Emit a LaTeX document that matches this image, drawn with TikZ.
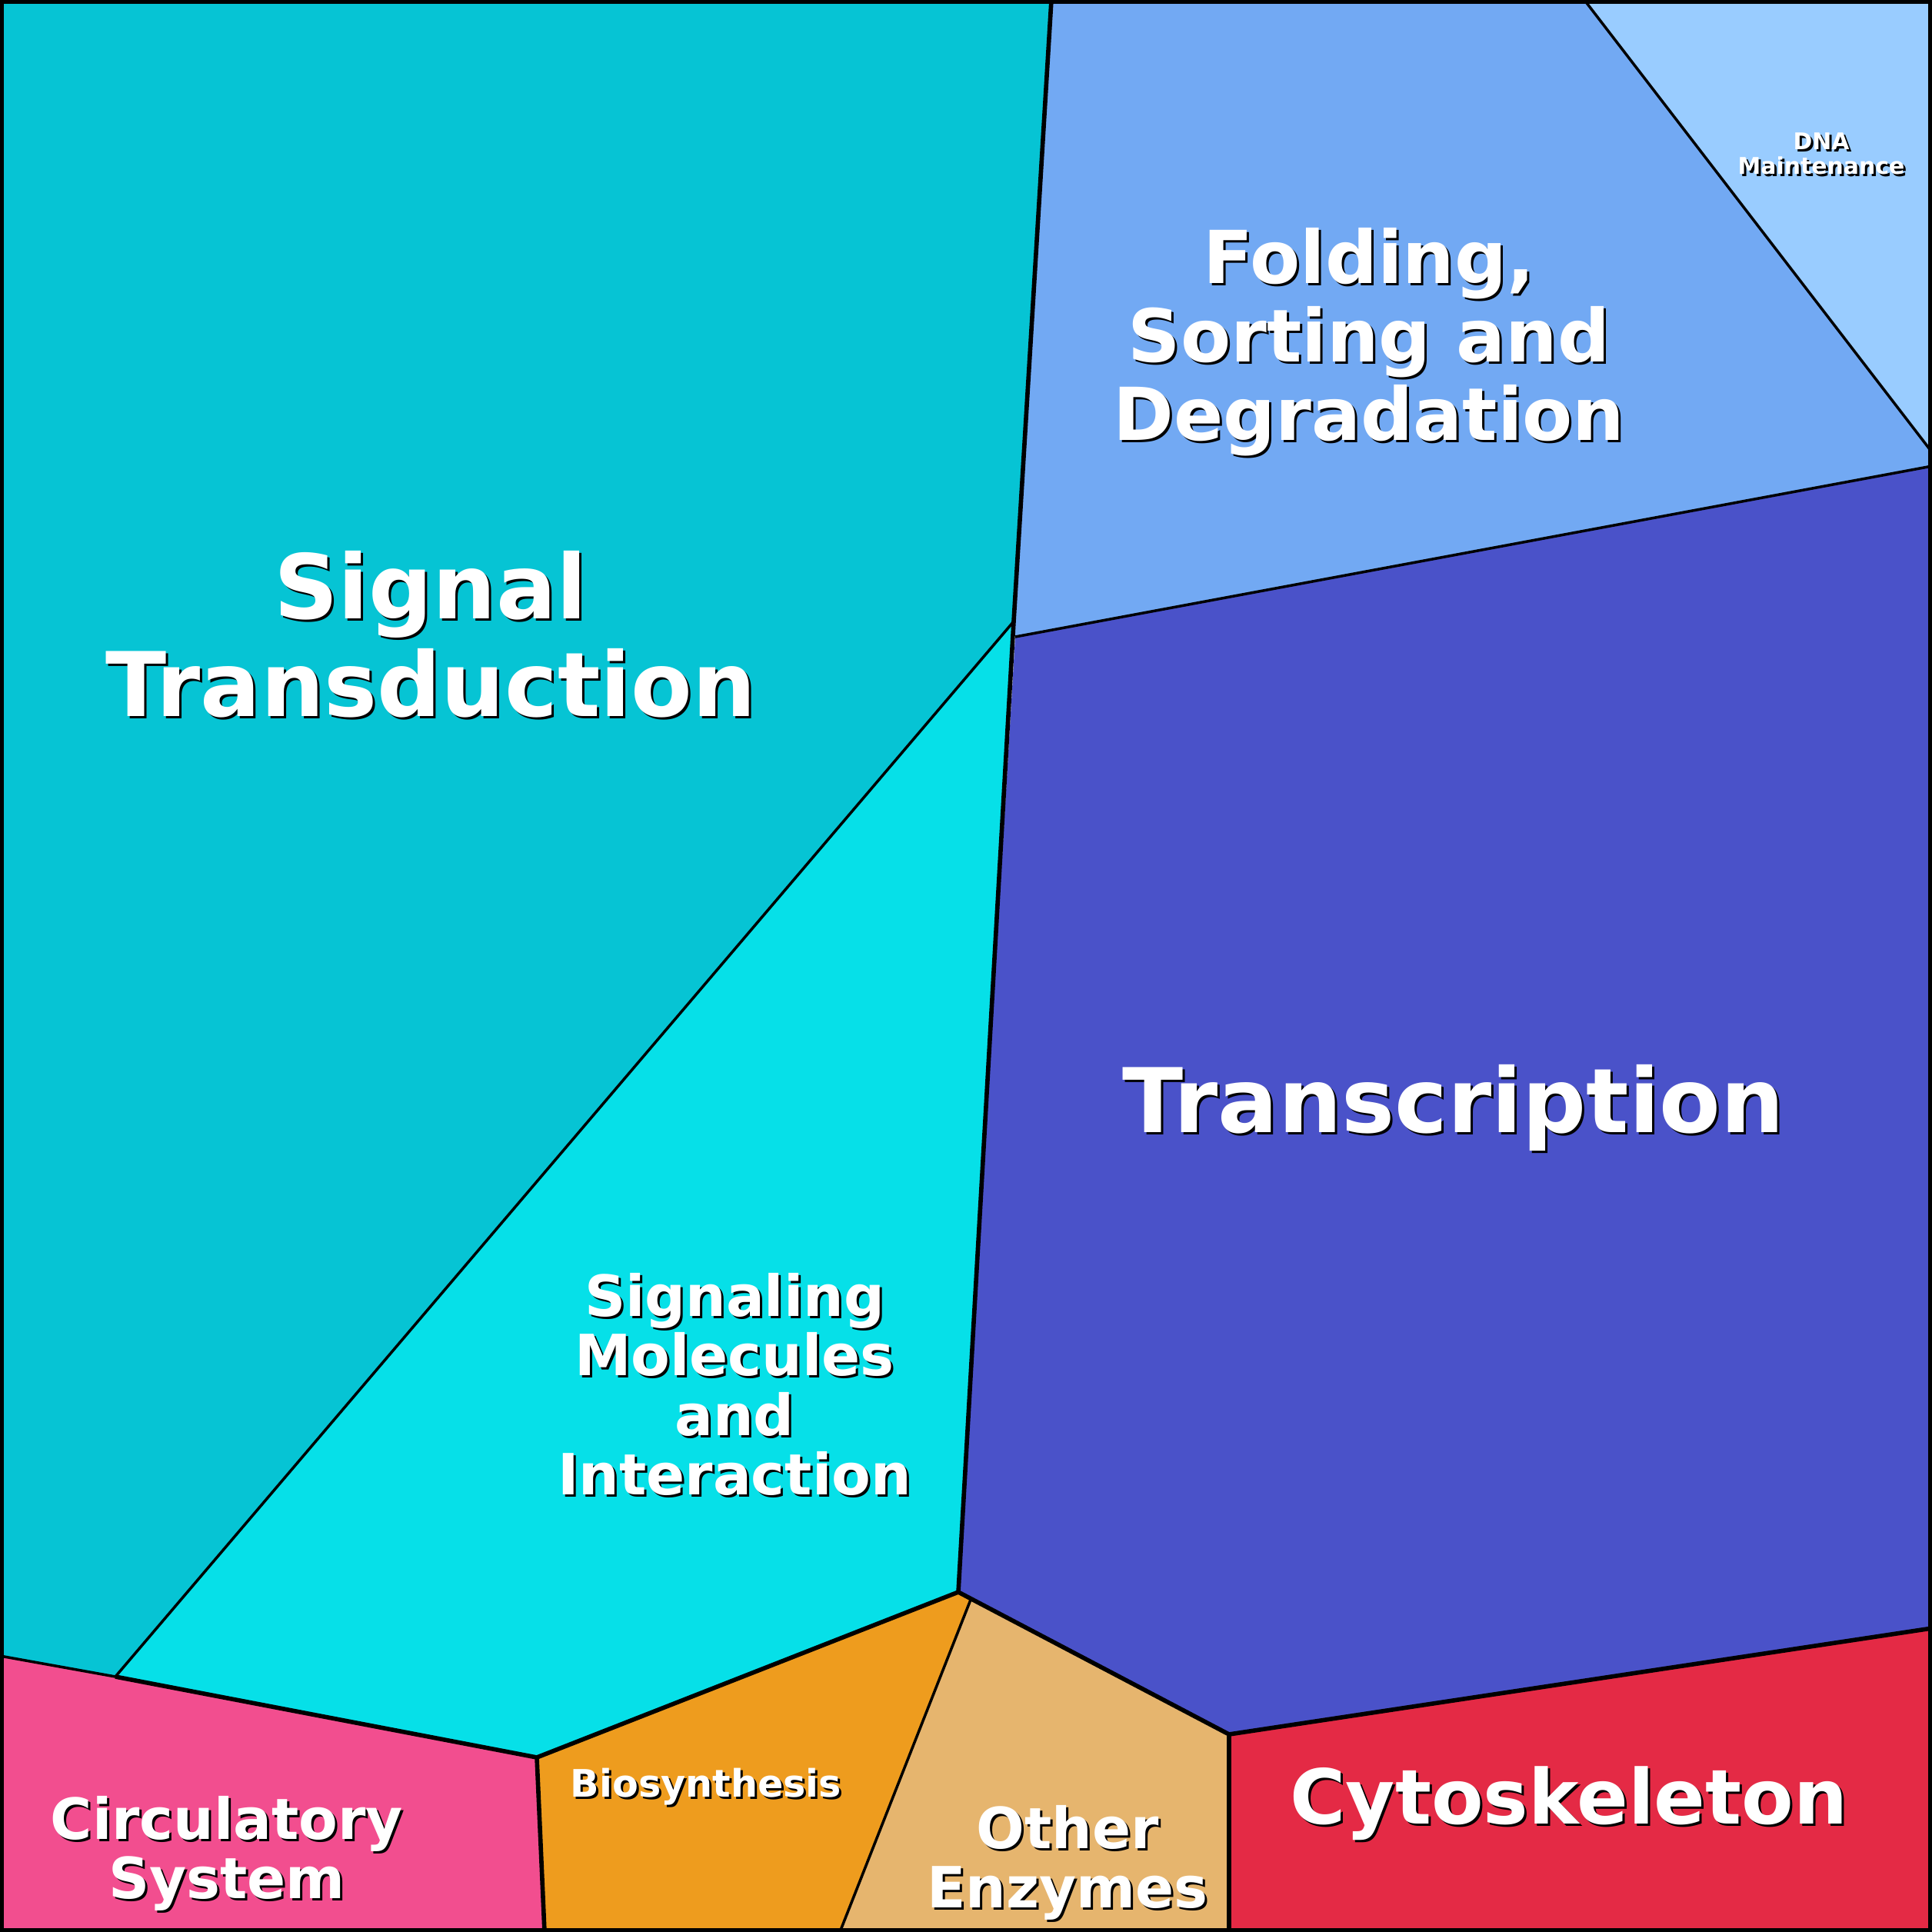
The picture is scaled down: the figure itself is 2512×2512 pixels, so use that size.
\documentclass[tikz,border=0pt]{standalone}
\usepackage{fontspec}
\setmainfont{DejaVu Sans}
\definecolor{sigtrans}{HTML}{06C4D4}
\definecolor{sigmol}{HTML}{06E0E8}
\definecolor{folding}{HTML}{72A9F3}
\definecolor{dnamaint}{HTML}{99CCFF}
\definecolor{transcr}{HTML}{4A52C9}
\definecolor{cytosk}{HTML}{E42A45}
\definecolor{otherenz}{HTML}{E6B56E}
\definecolor{biosyn}{HTML}{EE9C1E}
\definecolor{circsys}{HTML}{F24E8F}
\newcommand{\celllabel}[5]{%
  \node[cellshadow, font=\bfseries\fontsize{#3}{#4}\selectfont] at ([shift={(3,3)}]#2) {#5};
  \node[celltext, font=\bfseries\fontsize{#3}{#4}\selectfont] (#1) at (#2) {#5};}
\begin{document}
\begin{tikzpicture}[
    x=0.01cm, y=-0.01cm,
    cell/.style={draw=black, line width=1.6pt, line join=round},
    thin cell/.style={draw=black, line width=1pt},
    celltext/.style={text=white, align=center, inner sep=0pt},
    cellshadow/.style={text=black, align=center, inner sep=0pt}
]
\useasboundingbox (0,0) rectangle (2512,2512);

% Zellen
\fill[sigtrans] (0,0) -- (1367,0) -- (1318,808) -- (150,2180) -- (0,2153) -- cycle;
\fill[sigmol] (1318,808) -- (1246,2070) -- (698,2285) -- (150,2180) -- cycle;
\fill[folding] (1367,0) -- (2060,0) -- (2512,588) -- (2512,606) -- (1320,828) -- (1318,808) -- cycle;
\fill[dnamaint] (2060,0) -- (2512,0) -- (2512,588) -- cycle;
\fill[transcr] (1320,828) -- (2512,606) -- (2512,2117) -- (1598,2255) -- (1262,2080) -- (1246,2070) -- cycle;
\fill[cytosk] (1598,2255) -- (2512,2117) -- (2512,2512) -- (1598,2512) -- cycle;
\fill[otherenz] (1262,2080) -- (1598,2255) -- (1598,2512) -- (1092,2512) -- cycle;
\fill[biosyn] (698,2285) -- (1246,2070) -- (1262,2080) -- (1092,2512) -- (708,2512) -- cycle;
\fill[circsys] (0,2153) -- (150,2180) -- (698,2285) -- (708,2512) -- (0,2512) -- cycle;

% Grenzen
\draw[thin cell] (1318,808) -- (150,2180);
\draw[thin cell] (2060,0) -- (2512,588);
\draw[thin cell] (1320,828) -- (2512,606);
\draw[thin cell] (1262,2080) -- (1092,2512);
\draw[thin cell] (0,2153) -- (150,2180);
\draw[cell] (1367,0) -- (1318,808) -- (1246,2070) -- (1598,2255) -- (2512,2117);
\draw[cell] (1598,2255) -- (1598,2512);
\draw[cell] (150,2180) -- (698,2285) -- (1246,2070);
\draw[cell] (698,2285) -- (708,2512);
\draw[line width=2.8pt] (0,0) rectangle (2512,2512);

% Beschriftungen
\celllabel{signaltr}{560,825}{33pt}{36pt}{Signal\\Transduction}
\celllabel{folding}{1780,445}{27pt}{29pt}{Folding,\\Sorting and\\Degradation}
\celllabel{dna}{2368,200}{8.5pt}{9pt}{DNA\\Maintenance}
\celllabel{transcr}{1890,1440}{33pt}{36pt}{Transcription}
\celllabel{sigmol}{955,1800}{21pt}{22pt}{Signaling\\Molecules\\and\\Interaction}
\celllabel{circ}{295,2410}{21pt}{22pt}{Circulatory\\System}
\celllabel{biosyn}{918,2323}{14pt}{15pt}{Biosynthesis}
\celllabel{otherenz}{1388,2422}{21pt}{22pt}{Other\\Enzymes}
\celllabel{cytosk}{2040,2345}{28pt}{30pt}{Cytoskeleton}
\end{tikzpicture}
\end{document}
